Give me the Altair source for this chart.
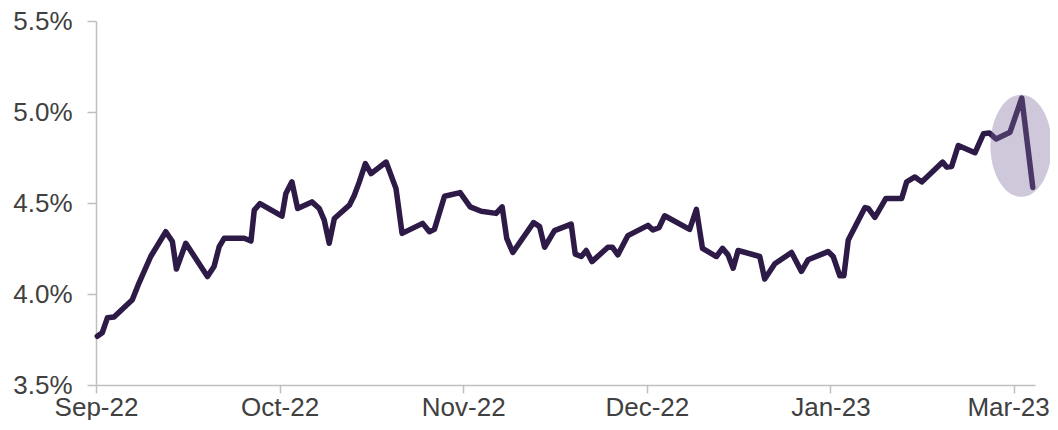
import altair as alt
import pandas as pd

# x position in label-interval units (0 = Sep-22, 1 = Oct-22, ... 5 = Mar-23)
t = [0.007, 0.034, 0.062, 0.098, 0.198, 0.234, 0.298, 0.380, 0.416, 0.438,
     0.489, 0.607, 0.643, 0.671, 0.698, 0.807, 0.844, 0.862, 0.893, 1.013,
     1.034, 1.067, 1.098, 1.176, 1.216, 1.243, 1.270, 1.298, 1.380, 1.407,
     1.434, 1.467, 1.498, 1.580, 1.634, 1.667, 1.779, 1.816, 1.843, 1.898,
     1.983, 2.038, 2.098, 2.179, 2.212, 2.237, 2.270, 2.383, 2.416, 2.443,
     2.497, 2.588, 2.610, 2.643, 2.670, 2.701, 2.788, 2.812, 2.842, 2.897,
     3.006, 3.033, 3.066, 3.097, 3.233, 3.270, 3.303, 3.379, 3.412, 3.442,
     3.470, 3.497, 3.615, 3.642, 3.697, 3.788, 3.842, 3.878, 3.987, 4.015,
     4.051, 4.073, 4.097, 4.188, 4.206, 4.242, 4.302, 4.388, 4.415, 4.460,
     4.497, 4.611, 4.633, 4.660, 4.696, 4.787, 4.833, 4.865, 4.902, 4.978,
     5.042, 5.102]

yield_pct = [3.768, 3.787, 3.869, 3.874, 3.969, 4.060, 4.206, 4.342, 4.288, 4.137,
             4.279, 4.096, 4.151, 4.260, 4.306, 4.306, 4.291, 4.461, 4.497, 4.428,
             4.552, 4.616, 4.470, 4.506, 4.470, 4.406, 4.279, 4.415, 4.488, 4.543,
             4.616, 4.716, 4.661, 4.725, 4.579, 4.333, 4.388, 4.342, 4.355, 4.537,
             4.557, 4.479, 4.455, 4.443, 4.479, 4.306, 4.228, 4.392, 4.370, 4.257,
             4.348, 4.384, 4.219, 4.206, 4.239, 4.178, 4.257, 4.257, 4.215, 4.321,
             4.377, 4.352, 4.364, 4.430, 4.355, 4.465, 4.251, 4.206, 4.251, 4.215,
             4.142, 4.239, 4.206, 4.082, 4.166, 4.228, 4.124, 4.188, 4.233, 4.206,
             4.100, 4.100, 4.297, 4.475, 4.470, 4.421, 4.525, 4.525, 4.616, 4.643,
             4.616, 4.725, 4.697, 4.701, 4.816, 4.776, 4.880, 4.885, 4.852, 4.889,
             5.077, 4.585]

tick_pos = [0, 1, 2, 3, 4, 5]
tick_labels = ["Sep-22", "Oct-22", "Nov-22", "Dec-22", "Jan-23", "Mar-23"]

highlight_t = [5.038]
highlight_y = [4.814]

df = pd.DataFrame({"t": t, "y": yield_pct})
hl = pd.DataFrame({"t": highlight_t, "y": highlight_y})

label_js = "[" + ",".join(f"'{s}'" for s in tick_labels) + "]"

x_enc = alt.X(
    "t:Q",
    scale=alt.Scale(domain=[0, 5.114], nice=False, zero=False),
    axis=alt.Axis(
        values=tick_pos,
        labelExpr=f"{label_js}[round(datum.value)]",
        title=None,
        grid=False,
        labelFontSize=26,
        labelColor="#404040",
        labelFont="Liberation Sans",
        labelPadding=1,
        labelOffset={"condition": {"test": "datum.value == 5", "value": -6}, "value": 0},
        tickSize=8,
        tickColor="#bfbfbf",
        tickWidth=1.5,
        domainColor="#bfbfbf",
        domainWidth=1.5,
        labelFlush=False,
        labelOverlap=False,
    ),
)
y_enc = alt.Y(
    "y:Q",
    scale=alt.Scale(domain=[3.5, 5.5], nice=False, zero=False),
    axis=alt.Axis(
        values=[3.5, 4.0, 4.5, 5.0, 5.5],
        labelExpr="format(datum.value, '.1f') + '%'",
        title=None,
        grid=False,
        labelFontSize=26,
        labelColor="#404040",
        labelFont="Liberation Sans",
        labelPadding=15,
        tickSize=9,
        tickColor="#bfbfbf",
        tickWidth=1.5,
        domainColor="#bfbfbf",
        domainWidth=1.5,
        labelFlush=False,
        labelOverlap=False,
    ),
)

line = alt.Chart(df).mark_line(
    color="#2d1a47", strokeWidth=5.5, strokeCap="round", strokeJoin="round"
).encode(x=x_enc, y=y_enc)

ellipse = alt.Chart(hl).mark_point(
    shape="M -0.6 0 A 0.6 1 0 1 0 0.6 0 A 0.6 1 0 1 0 -0.6 0 Z",
    size=10404,
    filled=True,
    color="#7d6a9b",
    opacity=0.37,
    strokeWidth=0,
).encode(x=alt.X("t:Q"), y=alt.Y("y:Q"))

chart = (
    alt.layer(line, ellipse)
    .properties(
        width=939,
        height=364,
        autosize=alt.AutoSizeParams(type="none"),
        padding={"left": 88, "top": 13, "right": 15, "bottom": 35},
    )
    .configure_view(stroke=None)
)

chart.save("out.html", embed_options={"renderer": "svg", "actions": False})
